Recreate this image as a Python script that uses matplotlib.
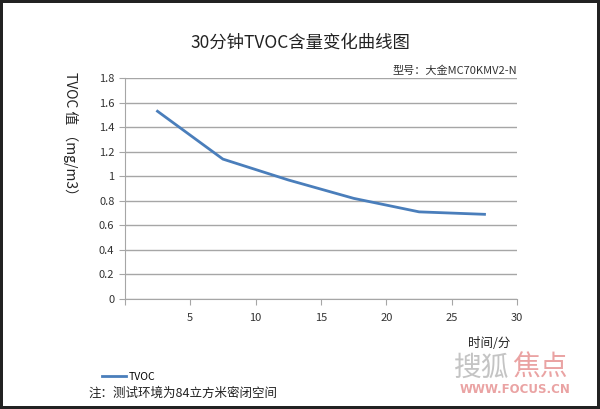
import numpy as np
from matplotlib import pyplot as plt
from matplotlib.ticker import FuncFormatter

plt.rcParams['font.family'] = ['Noto Sans CJK SC', 'DejaVu Sans']

# data
minutes = [2.5, 7.5, 12.5, 17.5, 22.5, 27.5]
tvoc = [1.53, 1.14, 0.97, 0.82, 0.71, 0.69]
x_ticks = [0, 5, 10, 15, 20, 25, 30]
y_ticks = [0, 0.2, 0.4, 0.6, 0.8, 1.0, 1.2, 1.4, 1.6, 1.8]

fig = plt.figure(figsize=(6, 4.09), dpi=100, facecolor='white',
                 edgecolor='#222222', linewidth=3)
ax = fig.add_axes([0.208, 0.269, 0.654, 0.540])

ax.plot(minutes, tvoc, color='#4a7ebb', lw=2, label='TVOC')

ax.set_xlim(0, 30)
ax.set_ylim(0, 1.8)
ax.set_xticks(x_ticks)
ax.set_xticklabels([''] + [str(t) for t in x_ticks[1:]])
ax.set_yticks(y_ticks)
ax.yaxis.set_major_formatter(FuncFormatter(lambda v, p: '{:g}'.format(round(v, 1))))
ax.grid(axis='y', color='#a6a6a6', lw=1)
ax.set_axisbelow(True)
for s in ['top', 'right']:
    ax.spines[s].set_visible(False)
for s in ['left', 'bottom']:
    ax.spines[s].set_color('#a6a6a6')
ax.tick_params(axis='both', colors='#a6a6a6', labelcolor='#333333',
               labelsize=8, length=4, direction='out')
ax.tick_params(axis='x', pad=6)

fig.text(0.5, 0.895, '30分钟TVOC含量变化曲线图', ha='center', va='center',
         fontsize=12.5, color='#222222')
ax.text(1.0, 1.01, '型号：大金MC70KMV2-N', transform=ax.transAxes,
        ha='right', va='bottom', fontsize=8, color='#333333')
fig.text(0.117, 0.665, 'TVOC 值 （mg/m3）', rotation=270, ha='center', va='center',
         fontsize=10, color='#222222')
fig.text(0.815, 0.16, '时间/分', ha='center', va='center', fontsize=9, color='#222222')

# legend and note
leg = fig.legend(loc='center left', bbox_to_anchor=(0.155, 0.078), frameon=False,
                 fontsize=7.5, handlelength=2.3, handletextpad=0.2)
fig.text(0.147, 0.038, '注：测试环境为84立方米密闭空间', ha='left', va='center',
         fontsize=9, color='#222222')

# watermark
fig.text(0.757, 0.1, '搜狐', ha='left', va='center', fontsize=20, color='#c4c4c4')
fig.text(0.853, 0.1, '焦点', ha='left', va='center', fontsize=20, color='#eaa3a3')
fig.text(0.858, 0.048, 'WWW.FOCUS.CN', ha='center', va='center', fontsize=8.5,
         color='#eaa3a3', family='DejaVu Sans', fontweight='bold')

fig.savefig('out.png', dpi=100)
